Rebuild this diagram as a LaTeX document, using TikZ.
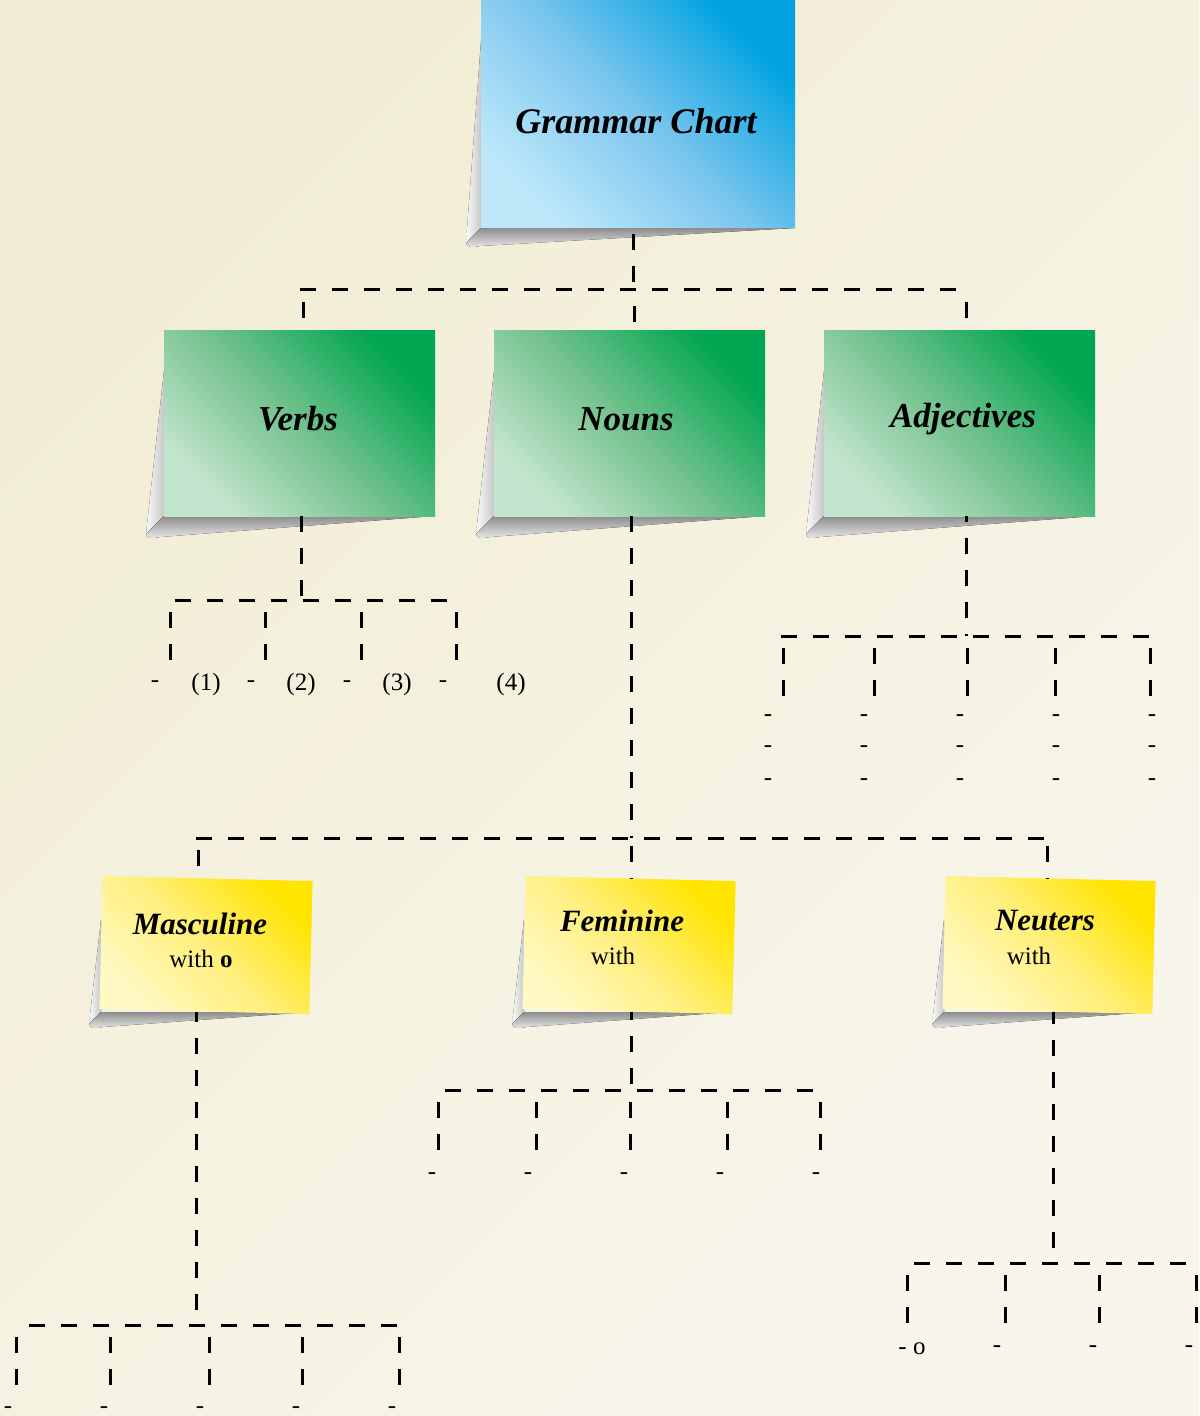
\documentclass[tikz,border=0pt]{standalone}
\usepackage{fontspec}
\setmainfont{Liberation Serif}
\usetikzlibrary{calc}
\definecolor{bgA}{HTML}{F1EDD4}
\definecolor{bgB}{HTML}{F8F6EC}
\definecolor{blueD}{HTML}{00A3E0}
\definecolor{blueM}{HTML}{7CC6EE}
\definecolor{blueL}{HTML}{BEE8FA}
\definecolor{greenD}{HTML}{00A651}
\definecolor{greenM}{HTML}{72C18D}
\definecolor{greenL}{HTML}{C4E5CD}
\definecolor{yelD}{HTML}{FFE400}
\definecolor{yelM}{HTML}{FFEF7A}
\definecolor{yelL}{HTML}{FFF9C4}
\newcommand\mynoteshadow[5]{%
  \fill[left color=black!2, right color=black!22] (#1,#2+40) -- (#1-#5,#4+#5) -- (#1,#4) -- cycle;
  \fill[top color=black!45, bottom color=black!8] (#1,#4) -- (#1-#5,#4+#5)
     .. controls (#1-#5+1,#4+#5+4) and (#1-#5+5,#4+#5+5) .. (#1-#5+14,#4+#5+3) -- (#3,#4) -- cycle;
}
\begin{document}
\begin{tikzpicture}[x=0.5pt,y=-0.5pt,
  tree/.style={line width=1.5pt, dash pattern=on 8pt off 8pt},
  notebase/.style={inner sep=0pt, draw=none},
  bnote/.style={notebase, minimum width=157pt, minimum height=113.5pt, top color=blueD, bottom color=blueL, middle color=blueM, shading angle=-45},
  gnote/.style={notebase, minimum width=135.5pt, minimum height=92.5pt, top color=greenD, bottom color=greenL, middle color=greenM, shading angle=-45},
  ynote/.style={notebase, minimum width=105pt, minimum height=66.5pt, top color=yelD, bottom color=yelL, middle color=yelM, shading angle=-45, rotate=-1.4},
  bigtxt/.style={inner sep=0pt, font=\fontsize{18}{20}\selectfont\bfseries\itshape},
  midtxt/.style={inner sep=0pt, font=\fontsize{17.5}{20}\selectfont\bfseries\itshape},
  ytxt/.style={inner sep=0pt, font=\fontsize{15.5}{18}\selectfont\bfseries\itshape},
  body/.style={inner sep=0pt, font=\fontsize{12.5}{14}\selectfont}
]
\useasboundingbox (0,0) rectangle (1199,1416);
\fill[top color=bgA, bottom color=bgB, shading angle=45] (0,0) rectangle (1199,1416);

% shadows
\mynoteshadow{481}{1}{795}{228}{15}
\mynoteshadow{164}{331}{435}{516}{18}
\mynoteshadow{494}{331}{765}{516}{18}
\mynoteshadow{824}{331}{1095}{516}{18}
\mynoteshadow{101}{880}{310}{1012}{12}
\mynoteshadow{524}{880}{731}{1012}{12}
\mynoteshadow{944}{880}{1151}{1012}{12}

% notes
\node[bnote] (title) at (638,114.5) {};
\node[gnote] (verbs) at (299.5,423.5) {};
\node[gnote] (nouns) at (629.5,423.5) {};
\node[gnote] (adj) at (959.5,423.5) {};
\node[ynote] (masc) at (206,945) {};
\node[ynote] (fem) at (629,945) {};
\node[ynote] (neut) at (1049,945) {};

% texts
\node[bigtxt] (titleT) at (636,121) {Grammar Chart};
\node[midtxt] (verbsT) at (298,419) {Verbs};
\node[midtxt] (nounsT) at (626,419) {Nouns};
\node[midtxt] (adjT) at (963,419) {Adjectives};
\node[ytxt] (mascT) at (200,924) {Masculine};
\node[body] (mascW) at (201,959) {with \textbf{o}};
\node[ytxt] (femT) at (622,921) {Feminine};
\node[body] (femW) at (613,956) {with};
\node[ytxt] (neutT) at (1045,921) {Neuters};
\node[body] (neutW) at (1029,956) {with};

% ---- top level tree
\coordinate (t0) at (633,290);
\coordinate (tL) at (300,290);
\coordinate (tR) at (966,290);
\draw[tree, dash phase=13pt] (title.south -| t0) -- (t0);
\draw[tree] (tL) -- (tR);
\coordinate (tv) at (303,290);
\coordinate (tn) at (634,290);
\draw[tree, dash phase=10pt] (tv) -- (tv |- verbs.north);
\draw[tree, dash phase=8pt] (tn) -- (tn |- nouns.north);
\draw[tree, dash phase=10pt] (tR) -- (tR |- adj.north);

% ---- verbs
\coordinate (vb) at (301,600);
\coordinate (vbL) at (167,600);
\coordinate (vbR) at (458,600);
\draw[tree] (verbs.south -| vb) -- (vb);
\draw[tree, dash phase=12pt] (vbL) -- (vbR);
\foreach \x [count=\i] in {170,265,361,456} {
  \coordinate (vt\i) at (\x,600);
  \coordinate (ve\i) at (\x,660);
  \draw[tree, dash phase=10pt] (vt\i) -- (ve\i);
}
\node[body] (vd1) at (155,684) {-};
\node[body] (vl1) at (206,684) {(1)};
\node[body] (vd2) at (251,684) {-};
\node[body] (vl2) at (301,684) {(2)};
\node[body] (vd3) at (347,684) {-};
\node[body] (vl3) at (397,684) {(3)};
\node[body] (vd4) at (443,684) {-};
\node[body] (vl4) at (511,684) {(4)};

% ---- nouns
\coordinate (nb) at (631,838);
\coordinate (nbL) at (196,838);
\coordinate (nbR) at (1046,838);
\draw[tree] (nouns.south -| nb) -- (nb);
\draw[tree] (nbL) -- (nbR);
\coordinate (nm) at (198,838);
\coordinate (nn) at (1047,838);
\draw[tree, dash phase=10pt] (nm) -- (nm |- masc.north);
\draw[tree, dash phase=12pt] (nb) -- (nb |- fem.north);
\draw[tree, dash phase=12pt] (nn) -- (nn |- neut.north);

% ---- adjectives
\coordinate (ab) at (966,636);
\coordinate (abL) at (781,636);
\coordinate (abR) at (1150,636);
\draw[tree, dash phase=5pt] (adj.south -| ab) -- (ab);
\draw[tree] (abL) -- (abR);
\foreach \x [count=\i] in {783,874,967,1055,1150} {
  \coordinate (at\i) at (\x,636);
  \coordinate (ae\i) at (\x,697);
  \draw[tree, dash phase=10pt] (at\i) -- (ae\i);
}
\foreach \x [count=\i] in {768,864,960,1056,1152} {
  \foreach \y [count=\j] in {718,749,782} {
    \node[body] (ad\i\j) at (\x,\y) {-};
  }
}

% ---- masculine
\coordinate (mb) at (196,1325);
\coordinate (mbL) at (15,1325);
\coordinate (mbR) at (402,1325);
\draw[tree, dash phase=3pt] (masc.south -| mb) -- (mb);
\draw[tree, dash phase=9pt] (mbL) -- (mbR);
\foreach \x [count=\i] in {16,110,209,302,399} {
  \coordinate (mt\i) at (\x,1325);
  \coordinate (me\i) at (\x,1385);
  \draw[tree, dash phase=10pt] (mt\i) -- (me\i);
}
\foreach \x [count=\i] in {8,104,200,296,392} {
  \node[body] (md\i) at (\x,1410) {-};
}

% ---- feminine
\coordinate (fb) at (631,1090);
\coordinate (fbL) at (437,1090);
\coordinate (fbR) at (823,1090);
\draw[tree, dash phase=4pt] (fem.south -| fb) -- (fb);
\draw[tree, dash phase=12pt] (fbL) -- (fbR);
\foreach \x [count=\i] in {438,536,630,727,820} {
  \coordinate (ft\i) at (\x,1090);
  \coordinate (fe\i) at (\x,1150);
  \draw[tree, dash phase=10pt] (ft\i) -- (fe\i);
}
\foreach \x [count=\i] in {432,528,624,720,816} {
  \node[body] (fd\i) at (\x,1176) {-};
}

% ---- neuters
\coordinate (eb) at (1053,1263);
\coordinate (ebL) at (906,1263);
\coordinate (ebR) at (1199,1263);
\draw[tree, dash phase=2pt] (neut.south -| eb) -- (eb);
\draw[tree, dash phase=12pt] (ebL) -- (ebR);
\foreach \x [count=\i] in {907,1005,1099,1196} {
  \coordinate (et\i) at (\x,1263);
  \coordinate (ee\i) at (\x,1323);
  \draw[tree, dash phase=10pt] (et\i) -- (ee\i);
}
\node[body] (ed1) at (912,1349) {- o};
\foreach \x [count=\i from 2] in {997,1093,1189} {
  \node[body] (ed\i) at (\x,1349) {-};
}
\end{tikzpicture}
\end{document}
